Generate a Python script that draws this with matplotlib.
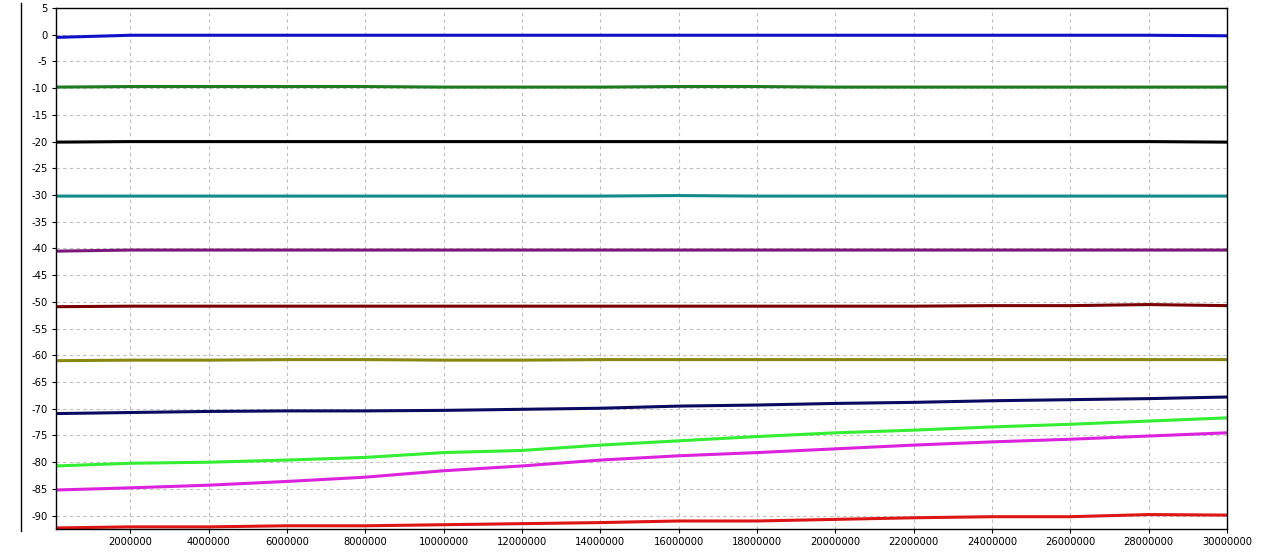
import matplotlib
matplotlib.use("Agg")
import matplotlib.pyplot as plt
from matplotlib.lines import Line2D

# x positions (sampled at tick positions)
x_vals = [100000, 2000000, 4000000, 6000000, 8000000, 10000000, 12000000, 14000000,
          16000000, 18000000, 20000000, 22000000, 24000000, 26000000, 28000000, 30000000]

s_blue = [-0.5, -0.1, -0.1, -0.1, -0.1, -0.1, -0.1, -0.1, -0.1, -0.1, -0.1, -0.1, -0.1, -0.1, -0.1, -0.2]
s_dgreen = [-9.8, -9.7, -9.7, -9.7, -9.7, -9.8, -9.8, -9.8, -9.7, -9.7, -9.8, -9.8, -9.8, -9.8, -9.8, -9.8]
s_black = [-20.1, -20.0, -20.0, -20.0, -20.0, -20.0, -20.0, -20.0, -20.0, -20.0, -20.0, -20.0, -20.0, -20.0, -20.0, -20.1]
s_teal = [-30.2, -30.2, -30.2, -30.2, -30.2, -30.2, -30.2, -30.2, -30.1, -30.2, -30.2, -30.2, -30.2, -30.2, -30.2, -30.2]
s_purple = [-40.5, -40.3, -40.3, -40.3, -40.3, -40.3, -40.3, -40.3, -40.3, -40.3, -40.3, -40.3, -40.3, -40.3, -40.3, -40.3]
s_maroon = [-50.9, -50.8, -50.8, -50.8, -50.8, -50.8, -50.8, -50.8, -50.8, -50.8, -50.8, -50.8, -50.7, -50.7, -50.5, -50.7]
s_olive = [-61.0, -60.9, -60.9, -60.8, -60.8, -60.9, -60.9, -60.8, -60.8, -60.8, -60.8, -60.8, -60.8, -60.8, -60.8, -60.8]
s_navy = [-70.9, -70.7, -70.5, -70.4, -70.4, -70.3, -70.1, -69.9, -69.5, -69.3, -69.0, -68.8, -68.5, -68.3, -68.1, -67.8]
s_lime = [-80.7, -80.2, -80.0, -79.6, -79.1, -78.2, -77.8, -76.8, -76.0, -75.2, -74.5, -74.0, -73.4, -72.9, -72.3, -71.7]
s_magenta = [-85.2, -84.8, -84.3, -83.6, -82.8, -81.6, -80.7, -79.6, -78.8, -78.2, -77.5, -76.8, -76.2, -75.7, -75.1, -74.5]
s_red = [-92.3, -92.1, -92.1, -91.9, -91.9, -91.7, -91.5, -91.3, -91.0, -91.0, -90.7, -90.4, -90.2, -90.2, -89.8, -89.9]

series = [s_blue, s_dgreen, s_black, s_teal, s_purple, s_maroon, s_olive,
          s_navy, s_lime, s_magenta, s_red]
colors = ["#1010c8", "#1e7a1e", "#000000", "#148a8a", "#7a187a", "#7a0000",
          "#888810", "#0a0a60", "#33ee33", "#dd22dd", "#dd1515"]

x_ticks = [2000000 * i for i in range(1, 16)]
y_ticks = list(range(-90, 6, 5))

fig = plt.figure(figsize=(12.64, 5.52), dpi=100)
ax = fig.add_axes([56 / 1264, 1 - 529 / 552, (1227 - 56) / 1264, (529 - 8) / 552])

for ys, c in zip(series, colors):
    ax.plot(x_vals, ys, color=c, linewidth=2.2, solid_capstyle="butt")

ax.set_xlim(100000, 30000000)
ax.set_ylim(-92.5, 5)
ax.set_xticks(x_ticks)
ax.set_xticklabels([str(t) for t in x_ticks])
ax.set_yticks(y_ticks)
ax.set_yticklabels([str(t) for t in y_ticks])

ax.grid(True, color="#c0c0c0", linestyle=(0, (3, 3)), linewidth=0.8)
ax.set_axisbelow(True)
for sp in ax.spines.values():
    sp.set_color("black")
    sp.set_linewidth(1.0)

ax.tick_params(axis="both", labelsize=7.2, length=3, width=0.8, color="black",
               direction="out", pad=3)
for lab in ax.get_xticklabels() + ax.get_yticklabels():
    lab.set_family("DejaVu Sans")

# decorative vertical line at far left
fig.add_artist(Line2D([21 / 1264, 21 / 1264], [1 - 3 / 552, 1 - 531 / 552],
                      color="black", linewidth=1.0, transform=fig.transFigure))

fig.savefig("out.png", dpi=100)
